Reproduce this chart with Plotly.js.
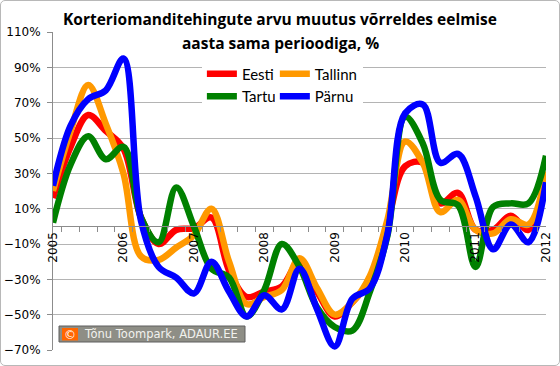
<!DOCTYPE html>
<html>
<head>
<meta charset="utf-8">
<script src="https://cdn.plot.ly/plotly-3.0.1.min.js"></script>
<style>
  html, body { margin: 0; padding: 0; background: #fff; }
  #wrap { position: relative; width: 560px; height: 366px; }
  #chart { width: 560px; height: 366px; }
  #frame { position: absolute; left: 0; top: 0; width: 558px; height: 364px;
           border: 1px solid #b8b8b8; border-radius: 5px; pointer-events: none; }
</style>
</head>
<body>
<div id="wrap"><div id="chart"></div><div id="frame"></div></div>
<script>
// Quarters 2005 I ... 2012 I
const categories = [
  "2005 I","2005 II","2005 III","2005 IV",
  "2006 I","2006 II","2006 III","2006 IV",
  "2007 I","2007 II","2007 III","2007 IV",
  "2008 I","2008 II","2008 III","2008 IV",
  "2009 I","2009 II","2009 III","2009 IV",
  "2010 I","2010 II","2010 III","2010 IV",
  "2011 I","2011 II","2011 III","2011 IV",
  "2012 I"
];
const tickLabels = [
  "2005","","","",
  "2006","","","",
  "2007","","","",
  "2008","","","",
  "2009","","","",
  "2010","","","",
  "2011","","","",
  "2012"
];
// year-over-year change, %
const eesti   = [16, 45, 63, 54, 44, 5, -10, -2, -1, 5, -25, -40, -37, -34, -20, -37, -51, -43, -30, 2, 34, 36, 13, 19, -2, -2, 6, -2, 30];
const tallinn = [20, 54, 80, 58, 30, -17, -19, -12, -5, 10, -20, -44, -40, -36, -18, -35, -50, -43, -28, 4, 48, 36, 8, 15, -2, -4, 4, 1, 31];
const tartu   = [2, 35, 51, 38, 45, 5, -9, 22, 0, -24, -29, -51, -36, -10, -23, -46, -57, -59, -37, -5, 62, 47, 15, 12, -23, 11, 13, 13, 40];
const parnu   = [23, 57, 72, 77, 95, 3, -23, -29, -38, -20, -37, -51, -39, -47, -24, -47, -68, -41, -35, -4, 64, 69, 36, 41, 17, -13, 1, -9, 25];

const seriesNames = ["Eesti", "Tallinn", "Tartu", "Pärnu"];
const seriesColors = ["#ff0000", "#ff9900", "#008000", "#0000ff"];
const seriesData = [eesti, tallinn, tartu, parnu];
const legendOf = ["legend", "legend2", "legend", "legend2"];

const titleLines = [
  "Korteriomanditehingute arvu muutus võrreldes eelmise",
  "aasta sama perioodiga, %"
];
const creditText = "Tõnu Toompark, ADAUR.EE";

const traces = seriesData.map((d, k) => ({
  type: "scatter",
  mode: "lines",
  name: seriesNames[k],
  x: categories,
  y: d,
  legend: legendOf[k],
  line: { color: seriesColors[k], width: 6.5, shape: "spline", smoothing: 1 },
  hoverinfo: "x+y+name"
}));

const yMin = -70, yMax = 110;

// pixel helpers for decorations (plot area 53..546 x 32..350)
const L = 53, R = 546, T = 32, B = 350;
const px = v => (v - L) / (R - L);
const py = v => (B - v) / (B - T);

const titleFont = { family: "Open Sans, sans-serif", size: 15.5, color: "#000" };

const layout = {
  width: 560,
  height: 366,
  margin: { l: L, r: 560 - R, t: T, b: 366 - B, pad: 0 },
  paper_bgcolor: "#ffffff",
  plot_bgcolor: "#ffffff",
  font: { family: "DejaVu Sans, Verdana, sans-serif", size: 12, color: "#000" },
  xaxis: {
    type: "category",
    categoryorder: "array",
    categoryarray: categories,
    tickvals: categories,
    ticktext: tickLabels,
    tickson: "boundaries",
    ticks: "outside",
    ticklen: 5,
    tickcolor: "#8c8c8c",
    tickangle: -90,
    tickfont: { family: "DejaVu Sans, Verdana, sans-serif", size: 12, color: "#000" },
    showgrid: false,
    showline: true,
    linecolor: "#8c8c8c",
    linewidth: 1,
    anchor: "free",
    position: (0 - yMin) / (yMax - yMin),
    fixedrange: true
  },
  yaxis: {
    range: [yMin, yMax],
    tick0: 10,
    dtick: 20,
    ticksuffix: "%",
    ticks: "outside",
    ticklen: 5,
    tickcolor: "#8c8c8c",
    ticklabelstandoff: 4,
    showline: true,
    linecolor: "#8c8c8c",
    linewidth: 1,
    showgrid: true,
    gridcolor: "#b4b4b4",
    gridwidth: 1,
    zeroline: false,
    tickfont: { family: "DejaVu Sans, Verdana, sans-serif", size: 12, color: "#000" },
    fixedrange: true
  },
  showlegend: true,
  legend: {
    x: 0.302, y: 0.92, xanchor: "left", yanchor: "top",
    orientation: "v",
    bgcolor: "#ffffff",
    borderwidth: 0,
    tracegroupgap: 0,
    itemwidth: 30,
    font: { family: "Lato, Open Sans, sans-serif", size: 15, color: "#000" }
  },
  legend2: {
    x: 0.450, y: 0.92, xanchor: "left", yanchor: "top",
    orientation: "v",
    bgcolor: "#ffffff",
    borderwidth: 0,
    tracegroupgap: 0,
    itemwidth: 30,
    font: { family: "Lato, Open Sans, sans-serif", size: 15, color: "#000" }
  },
  shapes: [
    { type: "rect", xref: "paper", yref: "paper", layer: "above",
      x0: px(59), x1: px(245), y0: py(342), y1: py(326),
      fillcolor: "#8e8e86", line: { color: "#5e5e5e", width: 1 } },
    { type: "rect", xref: "paper", yref: "paper", layer: "above",
      x0: px(62), x1: px(78), y0: py(340.5), y1: py(328),
      fillcolor: "#ff6600", line: { width: 0 } }
  ],
  annotations: [
    {
      text: "<b>" + titleLines[0] + "</b>",
      xref: "paper", yref: "paper",
      x: px(280), y: py(19), xanchor: "center", yanchor: "middle",
      showarrow: false, font: titleFont
    },
    {
      text: "<b>" + titleLines[1] + "</b>",
      xref: "paper", yref: "paper",
      x: px(280), y: py(43), xanchor: "center", yanchor: "middle",
      showarrow: false, font: titleFont
    },
    {
      text: "©",
      xref: "paper", yref: "paper",
      x: px(70), y: py(334.5), xanchor: "center", yanchor: "middle",
      showarrow: false,
      font: { family: "DejaVu Sans, Verdana, sans-serif", size: 12, color: "#ffffff" }
    },
    {
      text: creditText,
      xref: "paper", yref: "paper",
      x: px(82), y: py(334), xanchor: "left", yanchor: "middle",
      showarrow: false,
      font: { family: "DejaVu Sans, Verdana, sans-serif", size: 11.5, color: "#f2f2ee" }
    }
  ]
};

Plotly.newPlot("chart", traces, layout, { displayModeBar: false, staticPlot: true });
</script>
</body>
</html>
